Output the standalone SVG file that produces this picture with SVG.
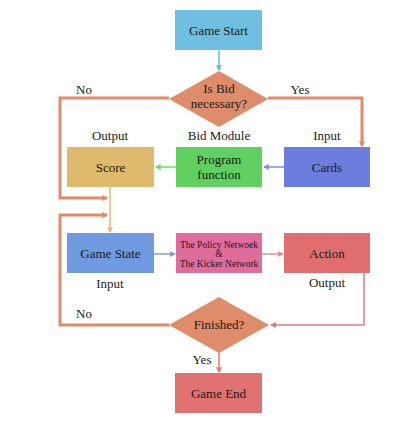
<svg xmlns="http://www.w3.org/2000/svg" width="413" height="422" viewBox="0 0 413 422" font-family="'Liberation Serif', 'DejaVu Serif', serif">
<style>
text{font-family:'Liberation Serif','DejaVu Serif',serif;font-size:13px;fill:#1a1a1a;text-anchor:middle}
.sm{font-size:9.5px}
.thick{fill:none;stroke:#e08a6a;stroke-width:3}
.thin{fill:none;stroke-width:1.5}
</style>
<defs>
<marker id="ab" viewBox="0 0 10 10" refX="8" refY="5" markerWidth="6" markerHeight="6" markerUnits="userSpaceOnUse" orient="auto"><path d="M0,0L10,5L0,10z" fill="context-stroke"/></marker>
</defs>
<rect width="413" height="422" fill="#fff"/>
<g id="connectors">
<line x1="219" y1="50" x2="219" y2="70" class="thin" stroke="#6bb8e0" stroke-width="2.5" marker-end="url(#ab)"/>
<polyline points="169,98 60,98 60,198 107,198" class="thick" marker-end="url(#ab)"/>
<polyline points="268,98 362,98 362,146" class="thick" marker-end="url(#ab)"/>
<line x1="284" y1="167" x2="264" y2="167" class="thin" stroke="#7b8fd8" marker-end="url(#ab)"/>
<line x1="176" y1="167" x2="156" y2="167" class="thin" stroke="#6fd46f" marker-end="url(#ab)"/>
<line x1="110" y1="187" x2="110" y2="232" class="thin" stroke="#e6bd78" marker-end="url(#ab)"/>
<polyline points="169,325 60,325 60,215 107,215" class="thick" marker-end="url(#ab)"/>
<line x1="154" y1="254" x2="175" y2="254" class="thin" stroke="#7b9fe0" marker-end="url(#ab)"/>
<line x1="262" y1="254" x2="283" y2="254" class="thin" stroke="#e88a9c" marker-end="url(#ab)"/>
<polyline points="364,273 364,325 271,325" class="thin" stroke="#e07a82" stroke-width="2" marker-end="url(#ab)"/>
<line x1="219" y1="353" x2="219" y2="372" class="thin" stroke="#e07a72" stroke-width="2" marker-end="url(#ab)"/>
</g>
<g id="game-start"><rect x="175" y="10" width="87" height="40" fill="#70bfe0"/><text x="218.5" y="35">Game Start</text></g>
<g id="bid-decision"><polygon points="219,71 268,99 219,127 169,99" fill="#de8c69"/><text x="219" y="93">Is Bid</text><text x="219" y="108">necessary?</text></g>
<text x="84" y="94">No</text>
<text x="300" y="94">Yes</text>
<text x="110" y="140">Output</text>
<text x="219" y="140">Bid Module</text>
<text x="327" y="140">Input</text>
<g id="score"><rect x="67" y="147" width="87" height="40" fill="#dfba6c"/><text x="110.5" y="172">Score</text></g>
<g id="program"><rect x="176" y="147" width="86" height="40" fill="#60d160"/><text x="219" y="164">Program</text><text x="219" y="179">function</text></g>
<g id="cards"><rect x="284" y="147" width="86" height="40" fill="#6c7ddd"/><text x="327" y="172">Cards</text></g>
<g id="game-state"><rect x="67" y="233" width="87" height="40" fill="#6f9ae0"/><text x="110.5" y="258">Game State</text></g>
<g id="policy"><rect x="176" y="233" width="86" height="40" fill="#e06c9c"/><text class="sm" x="219" y="248">The Policy Netwoek</text><text class="sm" x="219" y="257">&amp;</text><text class="sm" x="219" y="267">The Kicker Network</text></g>
<g id="action"><rect x="284" y="233" width="86" height="40" fill="#e06e6e"/><text x="327" y="258">Action</text></g>
<text x="110" y="288">Input</text>
<text x="327" y="287">Output</text>
<g id="finished"><polygon points="219,297 269,325 219,353 169,325" fill="#de8c69"/><text x="219" y="329">Finished?</text></g>
<text x="84" y="318">No</text>
<text x="202" y="364">Yes</text>
<g id="game-end"><rect x="175" y="373" width="87" height="40" fill="#e07272"/><text x="218.5" y="398">Game End</text></g>
</svg>
